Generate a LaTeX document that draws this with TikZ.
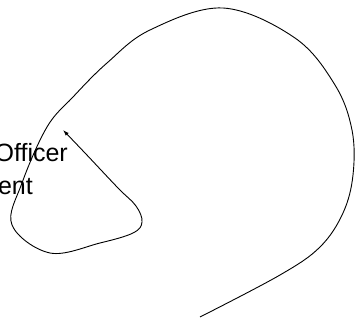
\documentclass[tikz,border=0pt]{standalone}
\usepackage{fontspec}
\setmainfont{Liberation Sans}
\usetikzlibrary{arrows.meta}

\begin{document}
\begin{tikzpicture}[
    x=1pt, y=-1pt,
    lbl/.style={inner sep=0pt, anchor=base east, font=\fontsize{25}{30}\selectfont},
    loopline/.style={line width=0.9pt, -{Latex[open, length=6pt, width=4pt]}},
  ]
    \useasboundingbox (0,0) rectangle (357,320);
    \clip (0,0) rectangle (357,320);
    \fill[white] (0,0) rectangle (357,320);

    % partly hidden labels on the left
    \node[lbl] (officer) at (68,162) {Officer};
    \node[lbl] (ent) at (33,195) {ent};

    % the big self loop
    \coordinate (start) at (200,317);
    \coordinate (tip) at (63,130);
    \draw[loopline] plot[smooth, tension=0.6] coordinates {
      (start) (280,275) (320,247) (343,213) (353,175) (352,130) (335,85)
      (295,38) (223,8) (150,30) (107,63) (73,97) (47,127) (22,183)
      (12,225) (50,253) (100,243) (133,233) (142,222) (136,206)
      (118,188) (85,153) (tip)};
  \end{tikzpicture}
\end{document}
